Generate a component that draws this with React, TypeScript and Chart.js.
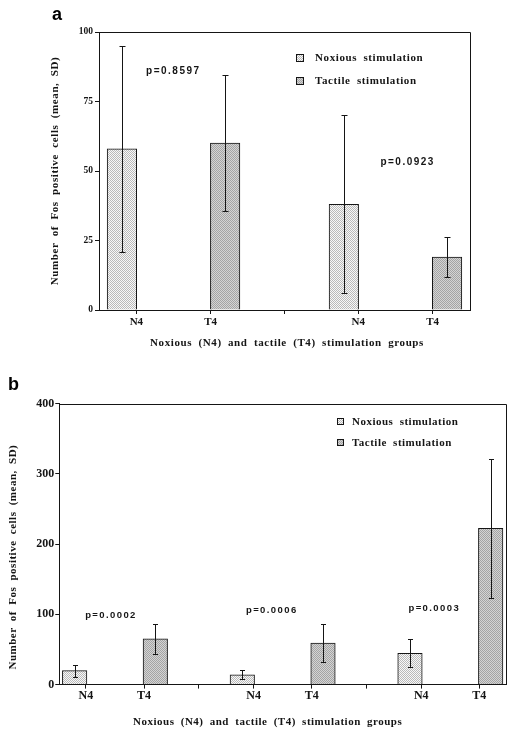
import React, { useEffect, useRef } from 'react';
import { Chart, registerables } from 'chart.js';

Chart.register(...registerables);

// ---------- shared text ----------
const seriesNames = ['Noxious stimulation', 'Tactile stimulation'];
const xTickNames = ['N4', 'T4'];
const yTitleText = 'Number of Fos positive cells (mean, SD)';
const xTitleText = 'Noxious (N4) and tactile (T4) stimulation groups';

// ---------- panel a ----------
const aNoxiousMean = [58, 38];
const aNoxiousSD = [37, 32];
const aTactileMean = [60, 19];
const aTactileSD = [24.5, 7.3];
const aYTicks = [0, 25, 50, 75, 100];
const aPLabels = ['p=0.8597', 'p=0.0923'];
const aPX = [0.72, 2.99];
const aPY = [86, 53];

// ---------- panel b ----------
const bNoxiousMean = [20, 14, 44.5];
const bNoxiousSD = [8.5, 6.5, 20];
const bTactileMean = [65, 59, 222.5];
const bTactileSD = [22, 27, 99];
const bYTicks = [0, 100, 200, 300, 400];
const bPLabels = ['p=0.0002', 'p=0.0006', 'p=0.0003'];
const bPX = [0.64, 2.633, 4.647];
const bPY = [99, 105, 108];

const SERIF = '"Liberation Serif", "Times New Roman", Times, serif';
const SANS = '"Liberation Sans", Arial, Helvetica, sans-serif';
const INK = '#151515';

type Layout = {
  h: number;
  pad: { left: number; top: number; right: number; bottom: number };
  yAxisW: number;
  xAxisH: number;
  margin: number;
  step: number;
  labelShift: number;
  barPx: number;
  capHalf: number;
  yTickFont: number;
  xTickFont: number;
  xTickPad: number;
  yTickPad: number;
  titleFont: number;
  titleSpacing: number;
  titleWordSpacing: number;
  yTitleShift: [number, number];
  xTitleShift: [number, number];
  legendDX: number;
  legendDY: number;
  legendGap: number;
  legendBox: number;
  legendTextGap: number;
  pFont: number;
  pSpacing: number;
  letter: string;
  letterX: number;
  letterY: number;
};

type Panel = {
  means: number[][];
  sds: number[][];
  yTicks: number[];
  pLabels: string[];
  pX: number[];
  pY: number[];
  L: Layout;
};

const panelA: Panel = {
  means: [aNoxiousMean, aTactileMean],
  sds: [aNoxiousSD, aTactileSD],
  yTicks: aYTicks,
  pLabels: aPLabels,
  pX: aPX,
  pY: aPY,
  L: {
    h: 370,
    pad: { left: 45, top: 32, right: 46, bottom: 16.4 },
    yAxisW: 54,
    xAxisH: 43.6,
    margin: 0.222,
    step: 2.15,
    labelShift: 0.14,
    barPx: 29.5,
    capHalf: 3,
    yTickFont: 9.5,
    xTickFont: 11,
    xTickPad: 2,
    yTickPad: 2,
    titleFont: 11,
    titleSpacing: 0.6,
    titleWordSpacing: 3,
    yTitleShift: [0, 0],
    xTitleShift: [2.5, 0],
    legendDX: 197,
    legendDY: 26,
    legendGap: 23,
    legendBox: 8,
    legendTextGap: 19,
    pFont: 10,
    pSpacing: 1.5,
    letter: 'a',
    letterX: 52,
    letterY: 20,
  },
};

const panelB: Panel = {
  means: [bNoxiousMean, bTactileMean],
  sds: [bNoxiousSD, bTactileSD],
  yTicks: bYTicks,
  pLabels: bPLabels,
  pX: bPX,
  pY: bPY,
  L: {
    h: 368,
    pad: { left: 3, top: 33.7, right: 10, bottom: 5.4 },
    yAxisW: 56.3,
    xAxisH: 48,
    margin: 0.19,
    step: 2.078,
    labelShift: 0.14,
    barPx: 24.5,
    capHalf: 2.5,
    yTickFont: 12,
    xTickFont: 12,
    xTickPad: 0,
    yTickPad: 1,
    titleFont: 11,
    titleSpacing: 0.5,
    titleWordSpacing: 3,
    yTitleShift: [0, 13],
    xTitleShift: [-15, 0],
    legendDX: 277.7,
    legendDY: 18,
    legendGap: 20.6,
    legendBox: 7,
    legendTextGap: 15,
    pFont: 9.5,
    pSpacing: 1.4,
    letter: 'b',
    letterX: 8,
    letterY: 20,
  },
};

function makePattern(bg: string, dot: string): CanvasPattern | string {
  const c = document.createElement('canvas');
  c.width = 2;
  c.height = 2;
  const g = c.getContext('2d');
  if (!g) return bg;
  g.fillStyle = bg;
  g.fillRect(0, 0, 2, 2);
  g.fillStyle = dot;
  g.fillRect(0, 0, 1, 1);
  g.fillRect(1, 1, 1, 1);
  const p = g.createPattern(c, 'repeat');
  return p || bg;
}

function buildXTicks(P: Panel) {
  const L = P.L;
  const groups = P.means[0].length;
  const defs: { value: number; label: string }[] = [];
  for (let g = 0; g < groups; g++) {
    const base = L.margin + g * L.step;
    defs.push({ value: base + L.labelShift, label: xTickNames[0] });
    defs.push({ value: base + 1 - L.labelShift, label: xTickNames[1] });
    if (g < groups - 1) defs.push({ value: base + 1 + (L.step - 1) / 2, label: '' });
  }
  return defs;
}

function makePlugin(P: Panel, fills: (CanvasPattern | string)[]) {
  const L = P.L;
  return {
    id: 'figure' + L.letter,
    afterLayout(chart: any) {
      const shifts: Record<string, [number, number]> = { x: L.xTitleShift, y: L.yTitleShift };
      ['x', 'y'].forEach((id) => {
        const s: any = chart.scales[id];
        if (!s || s.__patched) return;
        const orig = s.drawTitle;
        s.drawTitle = function () {
          const ctx = this.ctx as any;
          ctx.save();
          ctx.letterSpacing = L.titleSpacing + 'px';
          ctx.wordSpacing = L.titleWordSpacing + 'px';
          ctx.translate(shifts[id][0], shifts[id][1]);
          orig.call(this);
          ctx.restore();
        };
        s.__patched = true;
      });
    },
    afterDatasetsDraw(chart: any) {
      const ctx = chart.ctx;
      const y = chart.scales.y;
      ctx.save();
      ctx.strokeStyle = INK;
      ctx.lineWidth = 1;
      chart.data.datasets.forEach((_ds: any, di: number) => {
        const meta = chart.getDatasetMeta(di);
        meta.data.forEach((el: any, i: number) => {
          const m = P.means[di][i];
          const sd = P.sds[di][i];
          const x = Math.round(el.x) + 0.5;
          const yt = Math.round(y.getPixelForValue(m + sd)) + 0.5;
          const yb = Math.round(y.getPixelForValue(m - sd)) + 0.5;
          ctx.beginPath();
          ctx.moveTo(x, yt);
          ctx.lineTo(x, yb);
          ctx.moveTo(x - L.capHalf, yt);
          ctx.lineTo(x + L.capHalf, yt);
          ctx.moveTo(x - L.capHalf, yb);
          ctx.lineTo(x + L.capHalf, yb);
          ctx.stroke();
        });
      });
      ctx.restore();
    },
    afterDraw(chart: any) {
      const ctx = chart.ctx as any;
      const a = chart.chartArea;
      const x = chart.scales.x;
      const y = chart.scales.y;
      ctx.save();
      // frame top & right
      ctx.strokeStyle = INK;
      ctx.lineWidth = 1;
      ctx.beginPath();
      ctx.moveTo(a.left, Math.round(a.top) + 0.5);
      ctx.lineTo(Math.round(a.right) + 0.5, Math.round(a.top) + 0.5);
      ctx.lineTo(Math.round(a.right) + 0.5, a.bottom);
      ctx.stroke();

      // legend
      ctx.font = `bold ${L.titleFont}px ${SERIF}`;
      ctx.letterSpacing = L.titleSpacing + 'px';
      ctx.wordSpacing = L.titleWordSpacing + 'px';
      ctx.textAlign = 'left';
      ctx.textBaseline = 'middle';
      seriesNames.forEach((name, i) => {
        const cy = a.top + L.legendDY + i * L.legendGap;
        const bx = Math.round(a.left + L.legendDX);
        const by = Math.round(cy - L.legendBox / 2);
        ctx.fillStyle = fills[i];
        ctx.fillRect(bx, by, L.legendBox, L.legendBox);
        ctx.strokeStyle = INK;
        ctx.strokeRect(bx + 0.5, by + 0.5, L.legendBox - 1, L.legendBox - 1);
        ctx.fillStyle = INK;
        ctx.fillText(name, bx + L.legendTextGap, cy + 0.5);
      });

      // p-values
      ctx.font = `bold ${L.pFont}px ${SANS}`;
      ctx.letterSpacing = L.pSpacing + 'px';
      ctx.wordSpacing = '0px';
      ctx.textAlign = 'center';
      P.pLabels.forEach((t, i) => {
        ctx.fillText(t, x.getPixelForValue(P.pX[i]), y.getPixelForValue(P.pY[i]));
      });

      // panel letter
      ctx.letterSpacing = '0px';
      ctx.font = `bold 18px ${SANS}`;
      ctx.textAlign = 'left';
      ctx.textBaseline = 'alphabetic';
      ctx.fillStyle = '#000';
      ctx.fillText(L.letter, L.letterX, L.letterY);
      ctx.restore();
    },
  };
}

function buildConfig(P: Panel): any {
  const L = P.L;
  const fills = [makePattern('#f8f8f8', '#bababa'), makePattern('#d4d4d4', '#a4a4a4')];
  const xDefs = buildXTicks(P);
  const groups = P.means[0].length;
  const xMax = 2 * L.margin + 1 + (groups - 1) * L.step;
  const datasets = P.means.map((means, si) => ({
    label: seriesNames[si],
    data: means.map((v, g) => ({ x: L.margin + g * L.step + si, y: v })),
    backgroundColor: fills[si],
    borderColor: INK,
    borderWidth: 1,
    barThickness: L.barPx,
    grouped: false,
  }));
  return {
    type: 'bar',
    data: { datasets },
    options: {
      responsive: false,
      animation: false,
      events: [],
      devicePixelRatio: 1,
      layout: { padding: L.pad },
      plugins: {
        legend: { display: false },
        tooltip: { enabled: false },
        title: { display: false },
      },
      scales: {
        x: {
          type: 'linear',
          min: 0,
          max: xMax,
          offset: false,
          afterBuildTicks: (s: any) => {
            s.ticks = xDefs.map((d) => ({ value: d.value }));
          },
          afterFit: (s: any) => {
            s.height = L.xAxisH;
          },
          grid: {
            offset: false,
            drawOnChartArea: false,
            drawTicks: true,
            tickLength: 4,
            color: INK,
          },
          border: { display: true, color: INK, width: 1 },
          ticks: {
            autoSkip: false,
            maxRotation: 0,
            padding: L.xTickPad,
            color: INK,
            font: { family: SERIF, weight: 'bold', size: L.xTickFont },
            callback: (_v: any, i: number) => (xDefs[i] ? xDefs[i].label : ''),
          },
          title: {
            display: true,
            text: xTitleText,
            color: INK,
            font: { family: SERIF, weight: 'bold', size: L.titleFont },
            padding: { top: 4, bottom: 4 },
          },
        },
        y: {
          type: 'linear',
          min: P.yTicks[0],
          max: P.yTicks[P.yTicks.length - 1],
          afterBuildTicks: (s: any) => {
            s.ticks = P.yTicks.map((v) => ({ value: v }));
          },
          afterFit: (s: any) => {
            s.width = L.yAxisW;
          },
          grid: {
            drawOnChartArea: false,
            drawTicks: true,
            tickLength: 4,
            color: INK,
          },
          border: { display: true, color: INK, width: 1 },
          ticks: {
            padding: L.yTickPad,
            color: INK,
            font: { family: SERIF, weight: 'bold', size: L.yTickFont },
            callback: (v: any) => String(v),
          },
          title: {
            display: true,
            text: yTitleText,
            color: INK,
            font: { family: SERIF, weight: 'bold', size: L.titleFont },
            padding: { top: 4, bottom: 4 },
          },
        },
      },
    },
    plugins: [makePlugin(P, fills)],
  };
}

function PanelChart({ panel, top }: { panel: Panel; top: number }) {
  const ref = useRef<HTMLCanvasElement>(null);
  useEffect(() => {
    if (!ref.current) return;
    const chart = new Chart(ref.current, buildConfig(panel));
    return () => chart.destroy();
  }, [panel]);
  return (
    <canvas
      ref={ref}
      width={516}
      height={panel.L.h}
      style={{ position: 'absolute', left: 0, top, width: 516, height: panel.L.h, display: 'block' }}
    />
  );
}

export default function App() {
  return (
    <div style={{ position: 'absolute', left: 0, top: 0, width: 516, height: 738, background: '#fff' }}>
      <PanelChart panel={panelA} top={0} />
      <PanelChart panel={panelB} top={370} />
    </div>
  );
}
